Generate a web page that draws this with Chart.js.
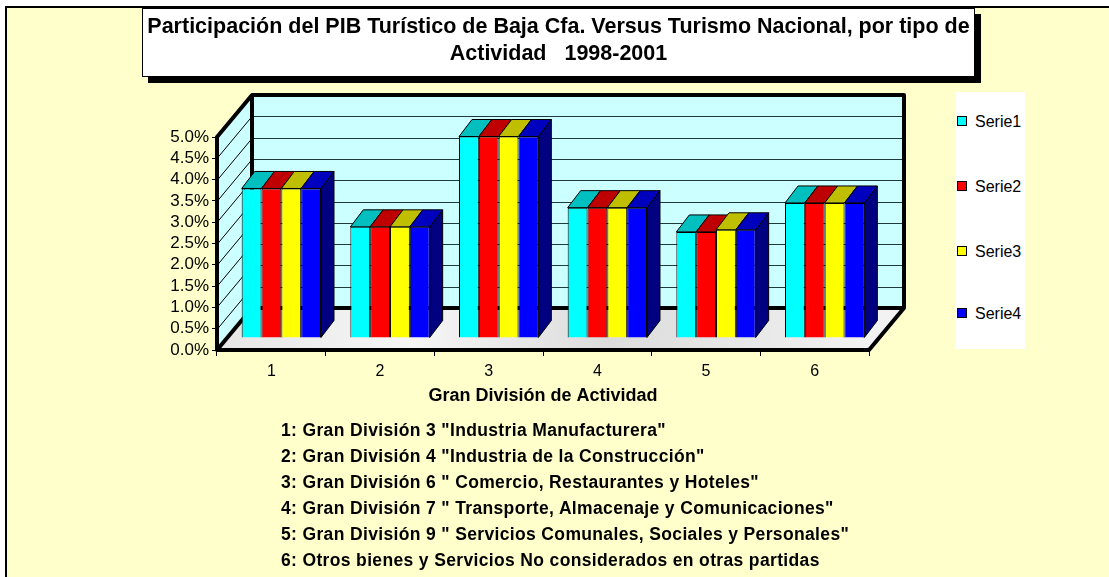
<!DOCTYPE html>
<html>
<head>
<meta charset="utf-8">
<script src="https://cdn.jsdelivr.net/npm/chart.js"></script>
<style>
    body { margin: 0; background: #fff; font-family: 'Liberation Sans', Arial, sans-serif; }
    #page { position: relative; width: 1109px; height: 577px; overflow: hidden; }
    #frame { position: absolute; left: 5px; top: 6px; width: 1110px; height: 580px; background: #FFFFCC;
             border-left: 2px solid #000; border-top: 2px solid #000; }
    #chart { position: absolute; left: 0; top: 0; }
    #title { position: absolute; left: 142px; top: 8px; width: 833px; height: 69px; background: #fff;
             border: 1px solid #000; box-shadow: 6px 6px 0 #000; text-align: center; white-space: nowrap;
             font-weight: bold; font-size: 21.5px; line-height: 27px; padding-top: 4px; box-sizing: border-box; }
    #legend { position: absolute; left: 955px; top: 92px; width: 70px; height: 257px; background: #fff; }
    .item { position: absolute; left: 2px; font-size: 16px; line-height: 18px; white-space: nowrap; }
    .item span { display: inline-block; width: 8px; height: 8px; border: 1px solid #000; margin-right: 8px; vertical-align: 1px; }
    #notes { position: absolute; left: 281px; top: 417px; font-weight: bold; font-size: 17.5px; letter-spacing: 0.35px;
             line-height: 26px; white-space: pre; }
</style>
</head>
<body>
<div id="page">
    <div id="frame"></div>
    <canvas id="chart" width="1109" height="577"></canvas>
    <div id="title">Participación del PIB Turístico de Baja Cfa. Versus Turismo Nacional, por tipo de<br>Actividad&nbsp;&nbsp; 1998-2001</div>
    <div id="legend"></div>
    <div id="notes"></div>
</div>
<script>
// Chart data
const categories = ['1', '2', '3', '4', '5', '6'];
const serieNames = ['Serie1', 'Serie2', 'Serie3', 'Serie4'];
const serie1 = [3.51, 2.61, 4.73, 3.06, 2.49, 3.17];
const serie2 = [3.51, 2.61, 4.73, 3.06, 2.49, 3.17];
const serie3 = [3.51, 2.61, 4.73, 3.06, 2.54, 3.17];
const serie4 = [3.51, 2.61, 4.73, 3.06, 2.54, 3.17];
const yMin = 0;
const yMax = 5;
const yStep = 0.5;
const notes = [
    '1: Gran División 3 "Industria Manufacturera"',
    '2: Gran División 4 "Industria de la Construcción"',
    '3: Gran División 6 " Comercio, Restaurantes y Hoteles"',
    '4: Gran División 7 " Transporte, Almacenaje y Comunicaciones"',
    '5: Gran División 9 " Servicios Comunales, Sociales y Personales"',
    '6: Otros bienes y Servicios No considerados en otras partidas'
];

const frontColors = ['#00FFFF', '#FF0000', '#FFFF00', '#0000FF'];
const topColors = ['#00BFBF', '#BF0000', '#BFBF00', '#0000BF'];
const sideColor = '#000080';

// 3D look: depth of the walls and where the bars sit inside that depth
const DX = 35, DY = -42;
const BAR_X = 10, BAR_Y = -12;
const BAR_DX = 13, BAR_DY = -17;

function poly(ctx, pts, fill) {
    ctx.beginPath();
    ctx.moveTo(pts[0][0], pts[0][1]);
    for (let i = 1; i < pts.length; i++) ctx.lineTo(pts[i][0], pts[i][1]);
    ctx.closePath();
    ctx.fillStyle = fill;
    ctx.fill();
}

function line(ctx, x1, y1, x2, y2) {
    ctx.beginPath();
    ctx.moveTo(x1, y1);
    ctx.lineTo(x2, y2);
    ctx.stroke();
}

const box3d = {
    id: 'box3d',
    beforeDatasetsDraw(chart) {
        const ctx = chart.ctx;
        const a = chart.chartArea;
        const yScale = chart.scales.y;
        ctx.save();

        // walls and floor
        poly(ctx, [[a.left + DX, a.top + DY], [a.right + DX, a.top + DY], [a.right + DX, a.bottom + DY], [a.left + DX, a.bottom + DY]], '#CCFFFF');
        poly(ctx, [[a.left, a.top], [a.left + DX, a.top + DY], [a.left + DX, a.bottom + DY], [a.left, a.bottom]], '#CCFFFF');
        const floorGrad = ctx.createLinearGradient(a.left, a.bottom + DY, a.right, a.bottom);
        floorGrad.addColorStop(0, '#e6e6e6');
        floorGrad.addColorStop(0.3, '#f6f6f6');
        floorGrad.addColorStop(0.6, '#dcdcdc');
        floorGrad.addColorStop(1, '#f2f2f2');
        poly(ctx, [[a.left, a.bottom], [a.left + DX, a.bottom + DY], [a.right + DX, a.bottom + DY], [a.right, a.bottom]], floorGrad);

        // value grid lines on the back wall and the left wall
        ctx.lineWidth = 1;
        yScale.ticks.forEach(t => {
            const py = Math.round(yScale.getPixelForValue(t.value)) + 0.5;
            ctx.strokeStyle = '#1f3a3a';
            line(ctx, a.left + DX, py + DY, a.right + DX, py + DY);
            ctx.strokeStyle = '#000';
            line(ctx, a.left, py, a.left + DX, py + DY);
        });

        // heavy edges
        ctx.strokeStyle = '#000';
        ctx.lineWidth = 4;
        ctx.lineJoin = 'round';
        line(ctx, a.left + DX, a.top + DY, a.left + DX, a.bottom + DY);
        line(ctx, a.left + DX, a.bottom + DY, a.right + DX, a.bottom + DY);
        ctx.beginPath();
        ctx.moveTo(a.left, a.bottom);
        ctx.lineTo(a.left, a.top);
        ctx.lineTo(a.left + DX, a.top + DY);
        ctx.lineTo(a.right + DX, a.top + DY);
        ctx.lineTo(a.right + DX, a.bottom + DY);
        ctx.lineTo(a.right, a.bottom);
        ctx.lineTo(a.left, a.bottom);
        ctx.lineTo(a.left + DX, a.bottom + DY);
        ctx.stroke();

        // tops and sides of the bars, under the front faces
        ctx.translate(BAR_X, BAR_Y);
        ctx.lineWidth = 1;
        ctx.strokeStyle = '#000';
        const last = chart.data.datasets.length - 1;
        chart.data.datasets.forEach((ds, i) => {
            chart.getDatasetMeta(i).data.forEach(bar => {
                const p = bar.getProps(['x', 'y', 'base', 'width'], true);
                const l = p.x - p.width / 2, r = p.x + p.width / 2;
                if (i === last) {
                    poly(ctx, [[r, p.y], [r + BAR_DX, p.y + BAR_DY], [r + BAR_DX, p.base + BAR_DY], [r, p.base]], sideColor);
                    ctx.stroke();
                }
                poly(ctx, [[l, p.y], [l + BAR_DX, p.y + BAR_DY], [r + BAR_DX, p.y + BAR_DY], [r, p.y]], topColors[i]);
                ctx.stroke();
            });
        });
        ctx.restore();

        // front faces get drawn by Chart.js in the same shifted plane
        ctx.save();
        ctx.translate(BAR_X, BAR_Y);
    },
    afterDatasetsDraw(chart) {
        chart.ctx.restore();
    }
};

const seriesData = [serie1, serie2, serie3, serie4];

new Chart(document.getElementById('chart'), {
    type: 'bar',
    data: {
        labels: categories,
        datasets: serieNames.map((name, i) => ({
            label: name,
            data: seriesData[i],
            backgroundColor: frontColors[i],
            borderColor: '#000',
            borderWidth: 1,
            categoryPercentage: 0.73,
            barPercentage: 1
        }))
    },
    options: {
        responsive: false,
        animation: false,
        layout: {
            padding: { left: 157, right: 240, top: 137, bottom: 170 }
        },
        plugins: {
            legend: { display: false },
            title: { display: false },
            tooltip: { enabled: false }
        },
        scales: {
            x: {
                border: { display: false },
                grid: { drawOnChartArea: false, drawTicks: true, tickLength: 6, color: '#000', lineWidth: 1 },
                ticks: {
                    color: '#000',
                    padding: 6,
                    font: { family: "'Liberation Sans', Arial", size: 16 }
                },
                title: {
                    display: true,
                    text: 'Gran División de Actividad',
                    color: '#000',
                    padding: { top: 0, bottom: 0 },
                    font: { family: "'Liberation Sans', Arial", size: 18, weight: 'bold' }
                },
                afterFit(scale) { scale.height = 57; }
            },
            y: {
                min: yMin,
                max: yMax,
                border: { display: false },
                grid: { drawOnChartArea: false, drawTicks: true, tickLength: 5, color: '#000', lineWidth: 1 },
                ticks: {
                    stepSize: yStep,
                    autoSkip: false,
                    color: '#000',
                    padding: 3,
                    font: { family: "'Liberation Sans', Arial", size: 17 },
                    callback: v => v.toFixed(1) + '%'
                },
                afterFit(scale) { scale.width = 60; }
            }
        }
    },
    plugins: [box3d]
});

// Legend box on the right
const legend = document.getElementById('legend');
const legendTops = [21, 86, 151, 213];
serieNames.forEach((name, i) => {
    const item = document.createElement('div');
    item.className = 'item';
    item.style.top = legendTops[i] + 'px';
    item.innerHTML = '<span style="background:' + frontColors[i] + '"></span>' + name;
    legend.appendChild(item);
});

// Footnotes under the chart
document.getElementById('notes').textContent = notes.join('\n');
</script>
</body>
</html>
